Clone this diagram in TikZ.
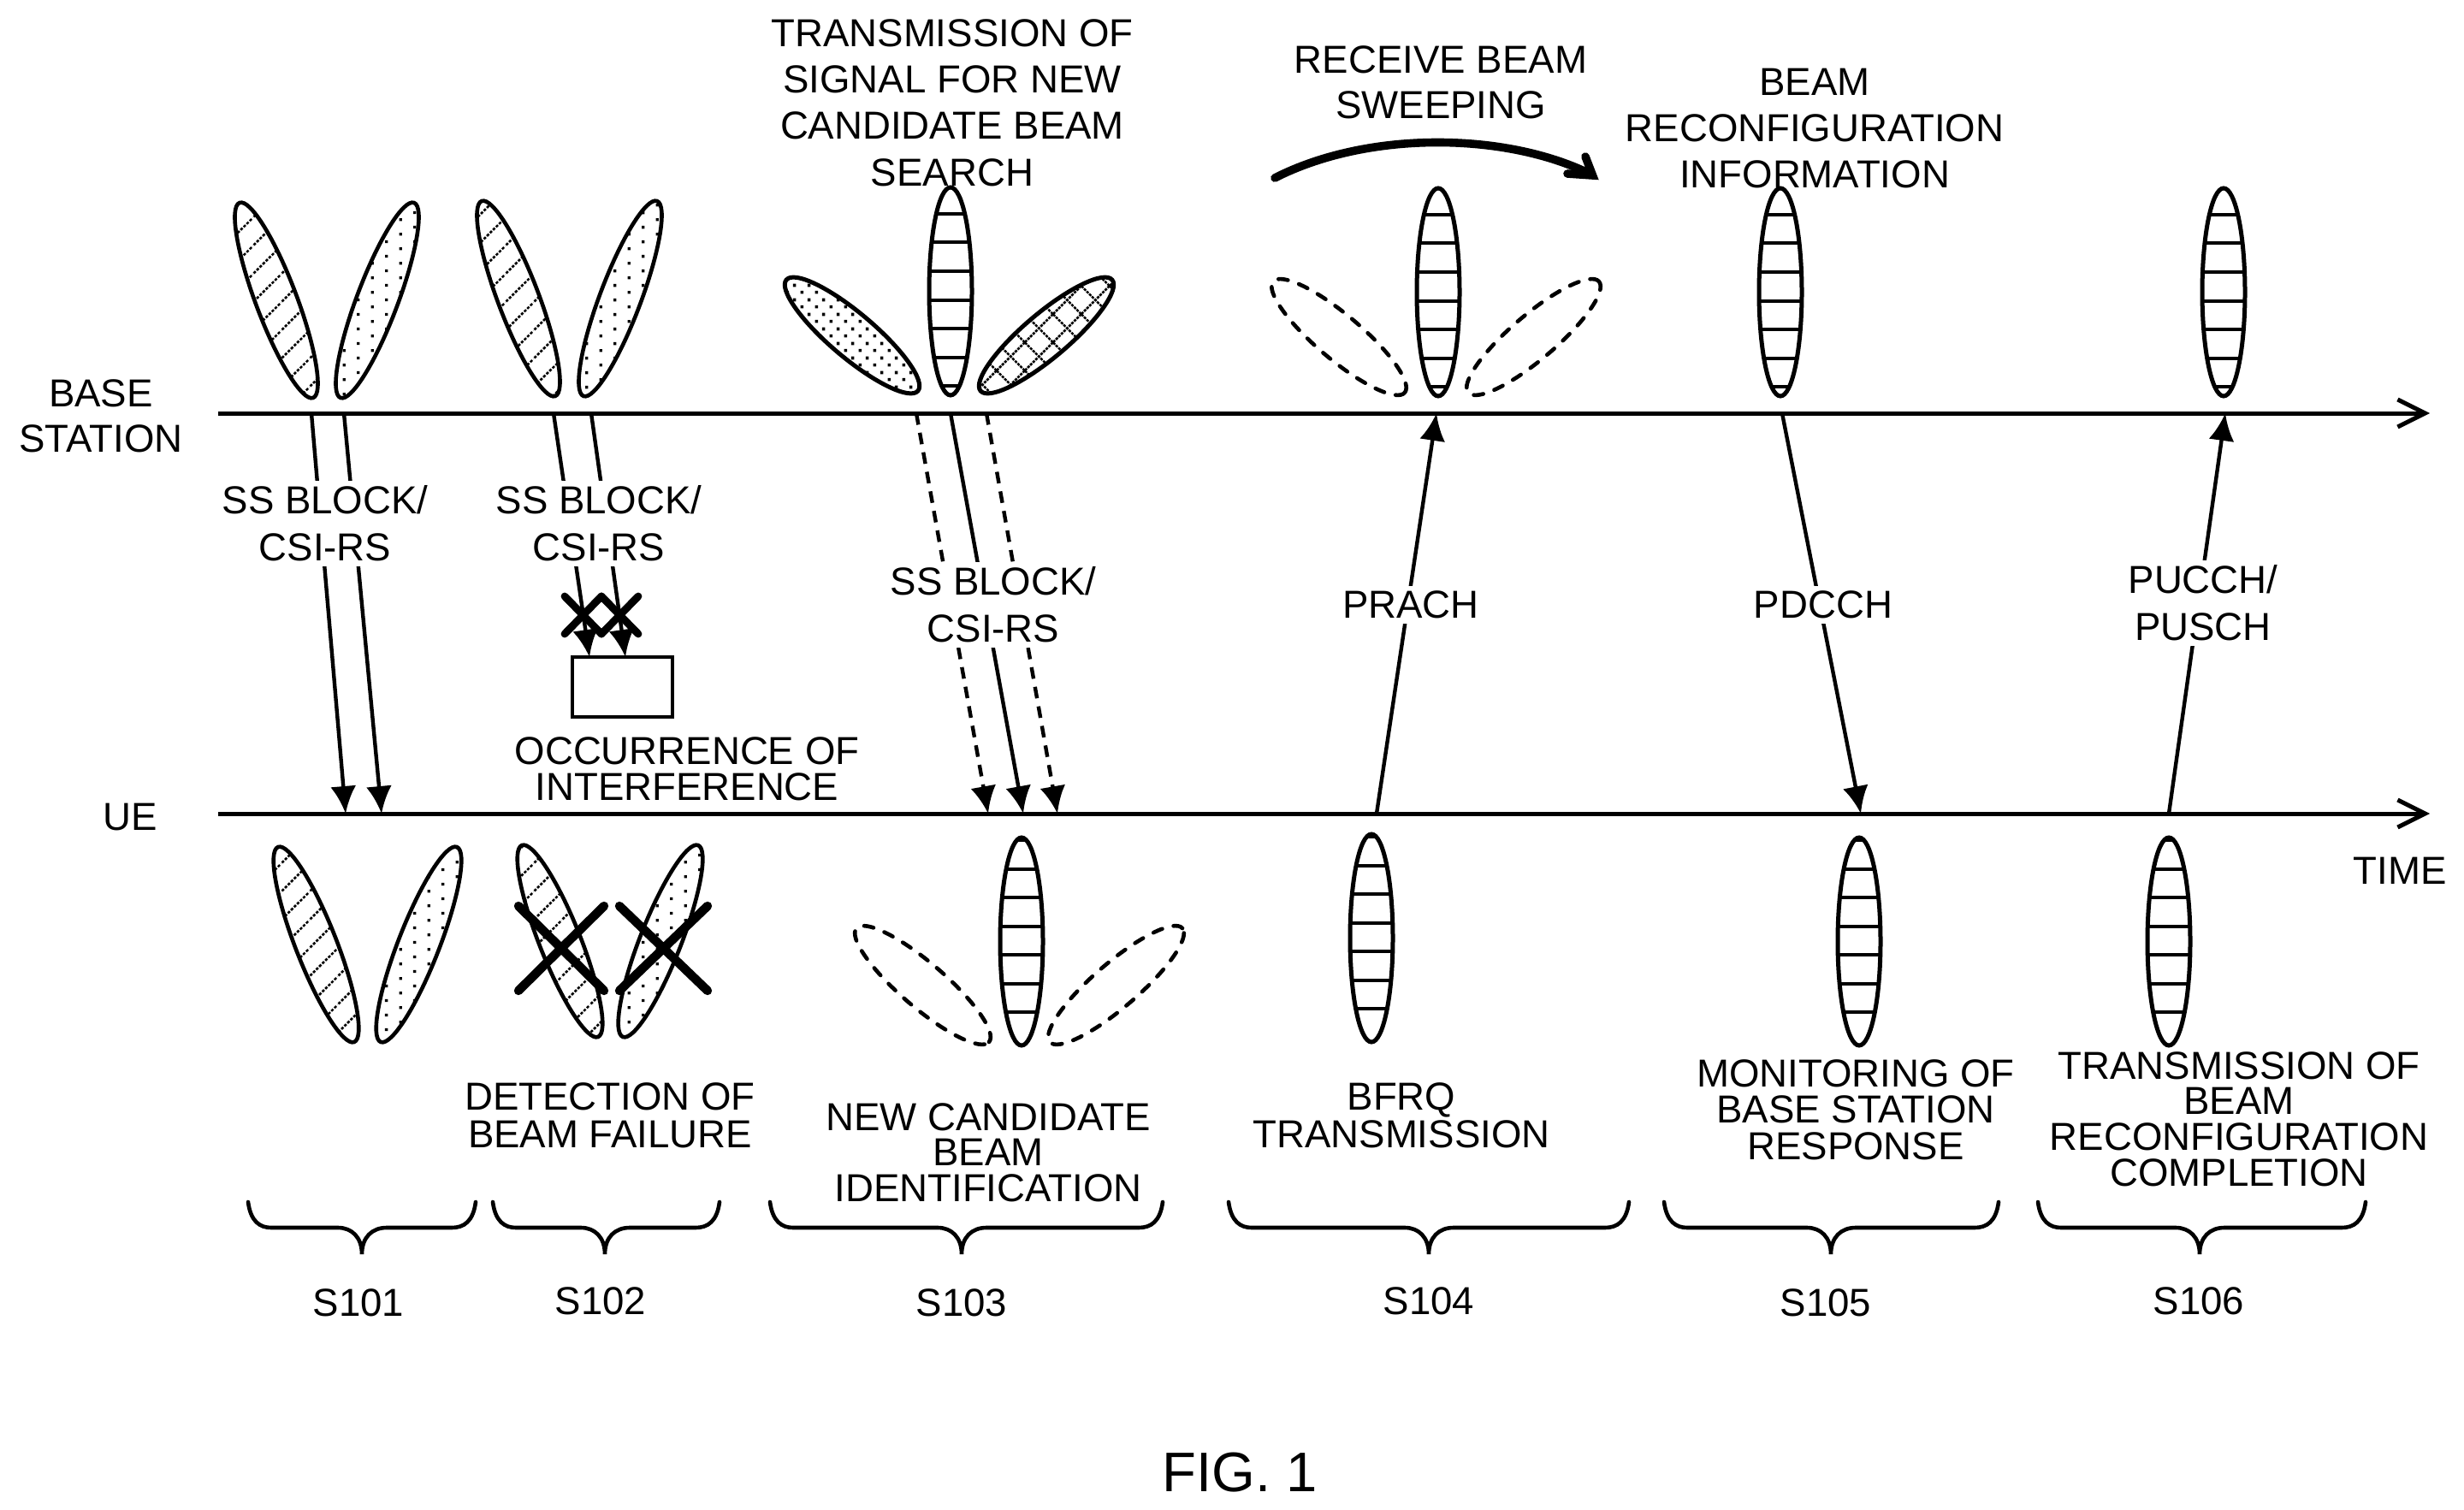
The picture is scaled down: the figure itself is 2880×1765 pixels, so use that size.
\documentclass[tikz,border=0pt]{standalone}
\usepackage{fontspec}
\setmainfont{Liberation Sans}
\usetikzlibrary{arrows.meta,patterns,calc}
\pgfdeclarepatternformonly{myhatch}{\pgfqpoint{0pt}{0pt}}{\pgfqpoint{8.2pt}{8.2pt}}{\pgfqpoint{8.2pt}{8.2pt}}{%
  \pgfsetlinewidth{0.65pt}\pgfsetdash{{0.8pt}{0.45pt}}{0pt}%
  \pgfpathmoveto{\pgfqpoint{-0.5pt}{-0.5pt}}\pgfpathlineto{\pgfqpoint{8.7pt}{8.7pt}}\pgfusepath{stroke}}
\pgfdeclarepatternformonly{mysparse}{\pgfqpoint{0pt}{0pt}}{\pgfqpoint{8.33pt}{4.17pt}}{\pgfqpoint{8.33pt}{4.17pt}}{%
  \pgfpathrectangle{\pgfqpoint{0.4pt}{0.4pt}}{\pgfqpoint{0.85pt}{0.85pt}}%
  \pgfpathrectangle{\pgfqpoint{4.57pt}{2.48pt}}{\pgfqpoint{0.85pt}{0.85pt}}\pgfusepath{fill}}
\pgfdeclarepatternformonly{mydense}{\pgfqpoint{0pt}{0pt}}{\pgfqpoint{4.17pt}{4.17pt}}{\pgfqpoint{4.17pt}{4.17pt}}{%
  \pgfpathrectangle{\pgfqpoint{0.4pt}{0.4pt}}{\pgfqpoint{0.9pt}{0.9pt}}%
  \pgfpathrectangle{\pgfqpoint{2.48pt}{2.48pt}}{\pgfqpoint{0.9pt}{0.9pt}}\pgfusepath{fill}}
\pgfdeclarepatternformonly{mycross}{\pgfqpoint{0pt}{0pt}}{\pgfqpoint{8.33pt}{8.33pt}}{\pgfqpoint{8.33pt}{8.33pt}}{%
  \pgfsetlinewidth{0.65pt}\pgfsetdash{{0.8pt}{0.3pt}}{0pt}%
  \pgfpathmoveto{\pgfqpoint{0pt}{0pt}}\pgfpathlineto{\pgfqpoint{8.33pt}{8.33pt}}%
  \pgfpathmoveto{\pgfqpoint{0pt}{8.33pt}}\pgfpathlineto{\pgfqpoint{8.33pt}{0pt}}\pgfusepath{stroke}}
\tikzset{
  x=0.25pt,y=0.25pt,
  lobeline/.style={draw=black,line width=1.15pt},
  hatchlobe/.style={lobeline,pattern=myhatch},
  sparselobe/.style={lobeline,pattern=mysparse},
  denselobe/.style={line width=1.25pt,draw=black,pattern=mydense},
  crosslobe/.style={line width=1.25pt,draw=black,pattern=mycross},
  dashlobe/.style={lobeline,line cap=round,dash pattern=on 2.8pt off 3.4pt},
  axisline/.style={line width=1.25pt,-{Straight Barb[length=8pt,width=8pt,line width=1.25pt]}},
  sigline/.style={line width=1.1pt,-{Latex[length=8pt,width=7.5pt]}},
  sigdash/.style={sigline,dash pattern=on 3.4pt off 2.4pt},
  bracestyle/.style={line width=1.15pt,line cap=round},
  xmark/.style={line width=#1,line cap=round},
  lbl/.style={inner sep=0pt,align=center,font=\fontsize{11.4}{#1}\selectfont},
  lbl/.default=13.6,
  siglbl/.style={lbl=#1,fill=white,inner sep=1.5pt},
  siglbl/.default=13.7,
}
\newcommand\lobe[4]{%
  \path[#1] let \p1=(#2), \p2=(#3), \n1={atan2(\y2-\y1,\x2-\x1)}, \n2={0.5*veclen(\x2-\x1,\y2-\y1)} in
    ($(#2)!0.5!(#3)$) ellipse [x radius=\n2, y radius={#4*0.25pt}, rotate=\n1];}
\newcommand\vlobe[4]{%
  \begin{scope}
    \clip ({#1},{-(#2+#3)/2}) ellipse [x radius=25, y radius={(#3-#2)/2}];
    \foreach \k in {0,...,7} {\draw[line width=1pt] ({#1-30},{-(#3-#4-33.5*\k)}) -- ({#1+30},{-(#3-#4-33.5*\k)});}
  \end{scope}
  \draw[line width=1.25pt] ({#1},{-(#2+#3)/2}) ellipse [x radius=25, y radius={(#3-#2)/2}];}
\newcommand\stepbrace[3]{%
  \draw[bracestyle] (#1,-1405) .. controls ({#1+3},-1428) and ({#1+14},-1435) .. ({#1+27},-1435)
    -- ({#2-28},-1435) .. controls ({#2-12},-1435) and (#2,-1446) .. (#2,-1466)
    .. controls (#2,-1446) and ({#2+12},-1435) .. ({#2+29},-1435)
    -- ({#3-28},-1435) .. controls ({#3-14},-1435) and ({#3-3},-1428) .. (#3,-1405);}
\newcommand\xcross[5]{%
  \draw[xmark=#5] (#1,-#2) -- (#3,-#4) (#1,-#4) -- (#3,-#2);}
\begin{document}
\begin{tikzpicture}
\useasboundingbox (0,0) rectangle (2880,-1765);
% axes
\coordinate (bs0) at (255,-483); \coordinate (bs1) at (2840,-483);
\coordinate (ue0) at (255,-951); \coordinate (ue1) at (2840,-951);
% top row lobes
\lobe{hatchlobe}{280,-237}{366,-465}{24}
\lobe{sparselobe}{484,-237}{398,-465}{24}
\lobe{hatchlobe}{563,-235}{649,-463}{24}
\lobe{sparselobe}{768,-235}{682,-463}{24}
\lobe{denselobe}{919,-327}{1073,-457}{26}
\vlobe{1111}{219}{462}{11}
\lobe{crosslobe}{1146,-457}{1300,-327}{26}
\lobe{dashlobe}{1488,-329}{1642,-459}{26}
\vlobe{1681}{220}{463}{11}
\lobe{dashlobe}{1716,-459}{1869,-329}{26}
\vlobe{2081}{220}{463}{11}
\vlobe{2599}{220}{463}{11}
% bottom row lobes
\lobe{hatchlobe}{325,-990}{414,-1218}{24}
\lobe{sparselobe}{534,-990}{445,-1218}{24}
\lobe{hatchlobe}{610,-988}{699,-1212}{24}
\lobe{sparselobe}{816,-988}{728,-1212}{24}
\xcross{606}{1059}{706}{1158}{2.6pt}
\xcross{724}{1059}{827}{1158}{2.6pt}
\lobe{dashlobe}{1001,-1085}{1156,-1218}{26}
\vlobe{1194}{979}{1222}{39}
\lobe{dashlobe}{1227,-1218}{1382,-1085}{26}
\vlobe{1603}{975}{1218}{39}
\vlobe{2173}{979}{1222}{39}
\vlobe{2535}{979}{1222}{39}
\draw[axisline] (bs0) -- (bs1);
\draw[axisline] (ue0) -- (ue1);
% interference box and small crosses
\node[draw,line width=1pt,minimum width=29.25pt,minimum height=17.5pt,inner sep=0pt] (ibox) at (727.5,-803) {};
\xcross{660}{697}{703}{741}{2.2pt}
\xcross{703}{697}{746}{741}{2.2pt}
% signal arrows
\coordinate (a1s) at (364,-483); \coordinate (a1e) at (404,-951);
\coordinate (a2s) at (402,-483); \coordinate (a2e) at (446,-951);
\coordinate (a3s) at (647,-483); \coordinate (a3e) at (689,-768);
\coordinate (a4s) at (691,-483); \coordinate (a4e) at (731,-768);
\coordinate (a5s) at (1071,-483); \coordinate (a5e) at (1155,-951);
\coordinate (a6s) at (1111,-483); \coordinate (a6e) at (1196,-951);
\coordinate (a7s) at (1153,-483); \coordinate (a7e) at (1236,-951);
\coordinate (a8s) at (1609,-951); \coordinate (a8e) at (1679,-483);
\coordinate (a9s) at (2083,-483); \coordinate (a9e) at (2175,-951);
\coordinate (a10s) at (2535,-951); \coordinate (a10e) at (2601,-483);
\draw[sigline] (a1s) -- (a1e);
\draw[sigline] (a2s) -- (a2e);
\draw[sigline] (a3s) -- (a3e);
\draw[sigline] (a4s) -- (a4e);
\draw[sigdash] (a5s) -- (a5e);
\draw[sigline] (a6s) -- (a6e);
\draw[sigdash] (a7s) -- (a7e);
\draw[sigline] (a8s) -- (a8e);
\draw[sigline] (a9s) -- (a9e);
\draw[sigline] (a10s) -- (a10e);
% sweep arrow
\coordinate (sw0) at (1490,-208); \coordinate (sw1) at (1858,-203);
\coordinate (swa) at (1853,-183); \coordinate (swb) at (1832,-203); \coordinate (swt) at (1861.5,-205);
\draw[line width=2.4pt,line cap=round] (sw0) .. controls (1600,-152) and (1760,-155) .. (sw1);
\draw[line width=2.4pt,line cap=round,line join=miter,miter limit=5] (swa) -- (swt) -- (swb);
% labels
\node[siglbl] (ss1) at (380,-612) {SS BLOCK/\\CSI-RS};
\node[siglbl] (ss2) at (700,-612) {SS BLOCK/\\CSI-RS};
\node[siglbl] (ss3) at (1161,-707) {SS BLOCK/\\CSI-RS};
\node[siglbl] (prach) at (1649,-707) {PRACH};
\node[siglbl] (pdcch) at (2131,-707) {PDCCH};
\node[siglbl] (pucch) at (2575,-705) {PUCCH/\\PUSCH};
\node[lbl] (tx) at (1113,-120) {TRANSMISSION OF\\SIGNAL FOR NEW\\CANDIDATE BEAM\\SEARCH};
\node[lbl=13.3] (rx) at (1684,-96) {RECEIVE BEAM\\SWEEPING};
\node[lbl] (rec) at (2121,-150) {BEAM\\RECONFIGURATION\\INFORMATION};
\node[lbl=13.3] (base) at (118,-486) {BASE\\STATION};
\node[lbl] (ue) at (152,-955) {UE};
\node[lbl] (time) at (2805,-1018) {TIME};
\node[lbl=10.6] (occ) at (803,-899) {OCCURRENCE OF\\INTERFERENCE};
\node[lbl=11] (det) at (713,-1304) {DETECTION OF\\BEAM FAILURE};
\node[lbl=10.4] (ncb) at (1155,-1347) {NEW CANDIDATE\\BEAM\\IDENTIFICATION};
\node[lbl=11] (bfrq) at (1638,-1304) {BFRQ\\TRANSMISSION};
\node[lbl=10.6] (mon) at (2169,-1297) {MONITORING OF\\BASE STATION\\RESPONSE};
\node[lbl=10.4] (txb) at (2617,-1308) {TRANSMISSION OF\\BEAM\\RECONFIGURATION\\COMPLETION};
% braces
\stepbrace{290}{423}{556}
\stepbrace{576}{707}{841}
\stepbrace{900}{1124}{1359}
\stepbrace{1436}{1670}{1904}
\stepbrace{1945}{2140}{2336}
\stepbrace{2382}{2571}{2765}
\node[lbl] (s1) at (419,-1523) {S101};
\node[lbl] (s2) at (702,-1521) {S102};
\node[lbl] (s3) at (1124,-1523) {S103};
\node[lbl] (s4) at (1670,-1521) {S104};
\node[lbl] (s5) at (2134,-1523) {S105};
\node[lbl] (s6) at (2570,-1521) {S106};
\node[inner sep=0pt,font=\fontsize{16.3}{18}\selectfont] (fig) at (1449,-1721) {FIG. 1};
\end{tikzpicture}
\end{document}
